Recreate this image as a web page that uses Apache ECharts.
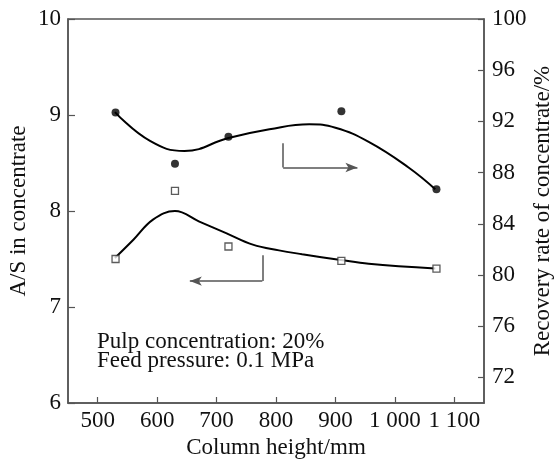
<!DOCTYPE html>
<html>
<head>
<meta charset="utf-8">
<script src="https://cdn.jsdelivr.net/npm/echarts@6/dist/echarts.min.js"></script>
<style>
  html, body { margin: 0; padding: 0; background: #fff; }
  #chart { width: 557px; height: 465px; }
</style>
</head>
<body>
<div id="chart"></div>
<script>
// measured points
const heights = [530, 630, 720, 910, 1070]
const asRatio = [7.5, 8.21, 7.63, 7.48, 7.4]
const recovery = [92.7, 88.7, 90.8, 92.8, 86.7]

// fitted curves
const asFitX = [529, 560, 593, 630, 671, 716, 761, 805, 844, 909, 956, 1068]
const asFitY = [7.51, 7.7, 7.91, 8.0, 7.89, 7.77, 7.65, 7.59, 7.55, 7.49, 7.45, 7.4]
const recFitX = [529, 588, 646, 720, 789, 856, 900, 956, 1023, 1068]
const recFitY = [92.73, 90.47, 89.69, 90.7, 91.38, 91.77, 91.5, 90.4, 88.4, 86.7]

// tick labels
const xTicks = [500, 600, 700, 800, 900, 1000, 1100]
const leftTicks = [6, 7, 8, 9, 10]
const rightTicks = [72, 76, 80, 84, 88, 92, 96, 100]

// arrow annotations (data coords)
const arrowRight = { x: [812, 937], y: [90.3, 88.4] }
const arrowLeft = { x: [777, 655], y: [7.54, 7.27] }

const axisColor = '#555'
const textColor = '#111'
const font = 'Liberation Serif'
const fontSize = 23

const zip = (xs, ys) => xs.map((x, i) => [x, ys[i]])

const chart = echarts.init(document.getElementById('chart'))

const option = {
  animation: false,
  textStyle: { fontFamily: font, color: textColor },
  grid: {
    left: 68, right: 73, top: 19, bottom: 62,
    outerBoundsMode: 'none',
    containLabel: false,
    show: true, borderColor: axisColor, borderWidth: 1.5
  },
  xAxis: {
    type: 'value',
    min: 450,
    max: 1150,
    name: 'Column height/mm',
    nameLocation: 'middle',
    nameGap: 33,
    nameMoveOverlap: false,
    nameTextStyle: { fontFamily: font, fontSize: fontSize, color: textColor },
    axisLine: { lineStyle: { color: axisColor, width: 1.5 } },
    axisTick: { inside: true, length: 6, customValues: xTicks, lineStyle: { color: axisColor, width: 1.2 } },
    axisLabel: {
      customValues: xTicks,
      margin: 6,
      fontFamily: font, fontSize: fontSize, color: textColor,
      formatter: v => v >= 1000 ? Math.floor(v / 1000) + ' ' + String(v % 1000).padStart(3, '0') : String(v)
    },
    splitLine: { show: false }
  },
  yAxis: [
    {
      type: 'value',
      min: 6,
      max: 10,
      interval: 1,
      name: 'A/S in concentrate',
      nameLocation: 'middle',
      nameRotate: 90,
      nameGap: 38,
      nameMoveOverlap: false,
      nameTextStyle: { fontFamily: font, fontSize: fontSize, color: textColor },
      axisLine: { show: true, lineStyle: { color: axisColor, width: 1.5 } },
      axisTick: { show: true, inside: true, length: 7, lineStyle: { color: axisColor, width: 1.2 } },
      axisLabel: { margin: 7, fontFamily: font, fontSize: fontSize, color: textColor, formatter: v => leftTicks.includes(v) ? String(v) : '' },
      splitLine: { show: false }
    },
    {
      type: 'value',
      position: 'right',
      min: 70,
      max: 100,
      name: 'Recovery rate of concentrate/%',
      nameLocation: 'middle',
      nameRotate: 90,
      nameGap: 47,
      nameMoveOverlap: false,
      nameTextStyle: { fontFamily: font, fontSize: fontSize, color: textColor },
      axisLine: { show: true, lineStyle: { color: axisColor, width: 1.5 } },
      axisTick: { show: true, inside: true, length: 6, customValues: rightTicks, lineStyle: { color: axisColor, width: 1.2 } },
      axisLabel: { customValues: rightTicks, margin: 8, fontFamily: font, fontSize: fontSize, color: textColor },
      splitLine: { show: false }
    }
  ],
  graphic: [
    {
      type: 'text',
      left: 97,
      top: 330,
      style: {
        text: 'Pulp concentration: 20%\nFeed pressure: 0.1 MPa',
        font: fontSize + 'px "Liberation Serif"',
        lineHeight: 19,
        fill: textColor
      }
    }
  ],
  series: [
    {
      name: 'A/S fit',
      type: 'line',
      yAxisIndex: 0,
      smooth: 0.4,
      symbol: 'none',
      lineStyle: { color: '#000', width: 2 },
      data: zip(asFitX, asFitY),
      markLine: {
        silent: true,
        symbol: ['none', 'arrow'],
        symbolSize: [7, 12],
        label: { show: false },
        lineStyle: { color: axisColor, width: 1.5, type: 'solid' },
        data: [
          [
            { coord: [arrowLeft.x[0], arrowLeft.y[0]], symbol: 'none' },
            { coord: [arrowLeft.x[0], arrowLeft.y[1]], symbol: 'none' }
          ],
          [
            { coord: [arrowLeft.x[0], arrowLeft.y[1]], symbol: 'none' },
            { coord: [arrowLeft.x[1], arrowLeft.y[1]] }
          ]
        ]
      }
    },
    {
      name: 'Recovery fit',
      type: 'line',
      yAxisIndex: 1,
      smooth: 0.45,
      symbol: 'none',
      lineStyle: { color: '#000', width: 2 },
      data: zip(recFitX, recFitY),
      markLine: {
        silent: true,
        symbol: ['none', 'arrow'],
        symbolSize: [7, 12],
        label: { show: false },
        lineStyle: { color: axisColor, width: 1.5, type: 'solid' },
        data: [
          [
            { coord: [arrowRight.x[0], arrowRight.y[0]], symbol: 'none' },
            { coord: [arrowRight.x[0], arrowRight.y[1]], symbol: 'none' }
          ],
          [
            { coord: [arrowRight.x[0], arrowRight.y[1]], symbol: 'none' },
            { coord: [arrowRight.x[1], arrowRight.y[1]] }
          ]
        ]
      }
    },
    {
      name: 'A/S',
      type: 'scatter',
      yAxisIndex: 0,
      symbol: 'rect',
      symbolSize: 7,
      itemStyle: { color: '#fff', borderColor: '#333', borderWidth: 1.3 },
      data: zip(heights, asRatio),
      z: 5
    },
    {
      name: 'Recovery rate',
      type: 'scatter',
      yAxisIndex: 1,
      symbol: 'circle',
      symbolSize: 8,
      itemStyle: { color: '#000' },
      data: zip(heights, recovery),
      z: 5
    }
  ]
}

chart.setOption(option)
</script>
</body>
</html>
